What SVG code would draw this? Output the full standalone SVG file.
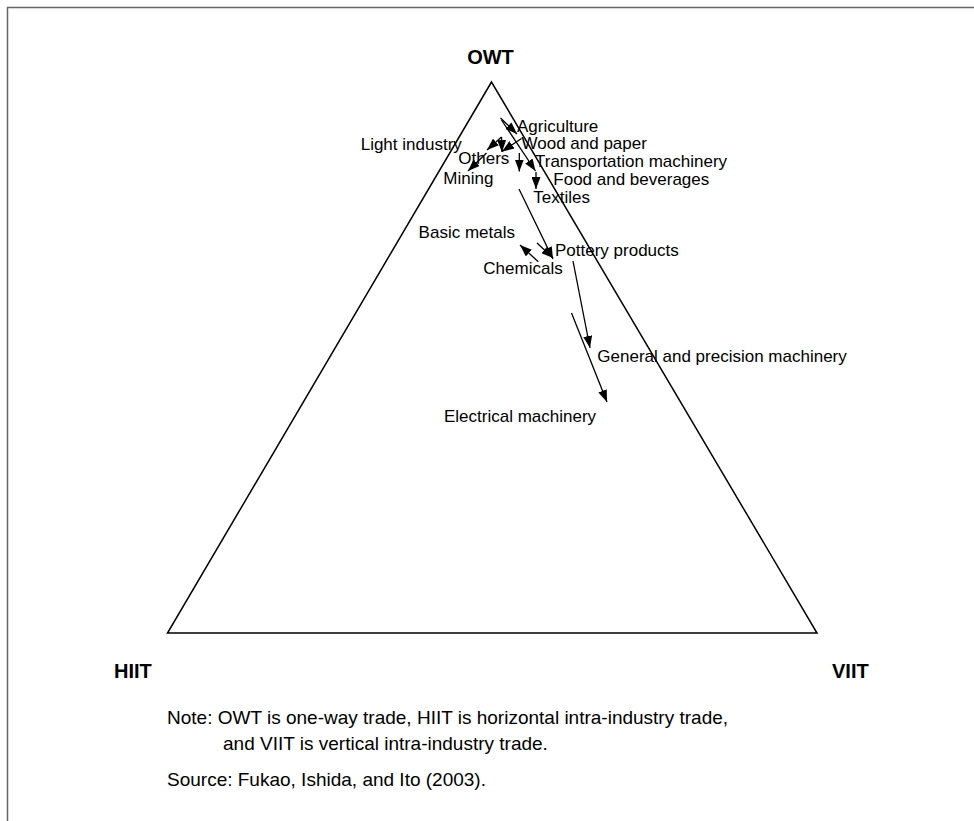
<svg xmlns="http://www.w3.org/2000/svg" width="974" height="821" viewBox="0 0 974 821">
<defs>
<style>
text{font-family:"Liberation Sans",Arial,sans-serif;fill:#000}
.lab{font-size:17px}
.ax{font-size:20px;font-weight:bold}
.note{font-size:19px}
.arr{stroke:#000;stroke-width:1.3;fill:none;marker-end:url(#ah)}
</style>
<marker id="ah" viewBox="0 0 12 9" refX="12" refY="4.5" markerWidth="12" markerHeight="9" markerUnits="userSpaceOnUse" orient="auto">
<path d="M0,0 L12,4.5 L0,9 Z" fill="#000"/>
</marker>
</defs>
<rect width="974" height="821" fill="#fff"/>
<g id="frame">
<path d="M7.5,821 L7.5,7.5 L974,7.5" fill="none" stroke="#666" stroke-width="1.5"/>
</g>
<g id="triangle">
<path d="M491.5,82 L167.5,633 L817,633 Z" fill="none" stroke="#000" stroke-width="1.5"/>
</g>
<g id="vertices">
<text id="owt" class="ax" x="490.5" y="64" text-anchor="middle">OWT</text>
<text id="hiit" class="ax" x="114" y="678">HIIT</text>
<text id="viit" class="ax" x="832" y="678">VIIT</text>
</g>
<g id="connectors">
<line class="arr" x1="500.5" y1="118" x2="517" y2="134"/>
<line class="arr" x1="501.5" y1="120" x2="535.5" y2="171"/>
<line class="arr" x1="501.5" y1="137" x2="487" y2="150"/>
<line class="arr" x1="501.5" y1="137" x2="502" y2="152"/>
<line class="arr" x1="521.5" y1="138.5" x2="502" y2="151.5"/>
<line class="arr" x1="486.5" y1="153" x2="468" y2="171"/>
<line class="arr" x1="519.3" y1="153" x2="519.3" y2="171.5"/>
<line class="arr" x1="536" y1="172" x2="536" y2="189"/>
<line class="arr" x1="519" y1="189" x2="553" y2="259"/>
<line class="arr" x1="537" y1="243" x2="553" y2="258"/>
<line class="arr" x1="538.3" y1="261.7" x2="520" y2="245"/>
<line class="arr" x1="573" y1="261" x2="590" y2="348"/>
<line class="arr" x1="571.5" y1="313" x2="607" y2="402"/>
</g>
<g id="labels">
<text id="agriculture" class="lab" x="517" y="131.5">Agriculture</text>
<text id="wood" class="lab" x="521.5" y="149.3">Wood and paper</text>
<text id="light" class="lab" x="360.7" y="149.5">Light industry</text>
<text id="others" class="lab" x="458.3" y="164.3">Others</text>
<text id="transport" class="lab" x="535" y="167.3">Transportation machinery</text>
<text id="mining" class="lab" x="443.3" y="183.5">Mining</text>
<text id="food" class="lab" x="553.3" y="185">Food and beverages</text>
<text id="textiles" class="lab" x="533.3" y="202.7">Textiles</text>
<text id="basic" class="lab" x="418.6" y="238.3">Basic metals</text>
<text id="pottery" class="lab" x="555" y="255.7">Pottery products</text>
<text id="chemicals" class="lab" x="483.3" y="274">Chemicals</text>
<text id="general" class="lab" x="597.3" y="361.7">General and precision machinery</text>
<text id="electrical" class="lab" x="444" y="421.7">Electrical machinery</text>
</g>
<g id="notes">
<text class="note" x="167" y="724">Note: OWT is one-way trade, HIIT is horizontal intra-industry trade,</text>
<text class="note" x="223" y="750">and VIIT is vertical intra-industry trade.</text>
<text class="note" x="167" y="786">Source: Fukao, Ishida, and Ito (2003).</text>
</g>
</svg>
